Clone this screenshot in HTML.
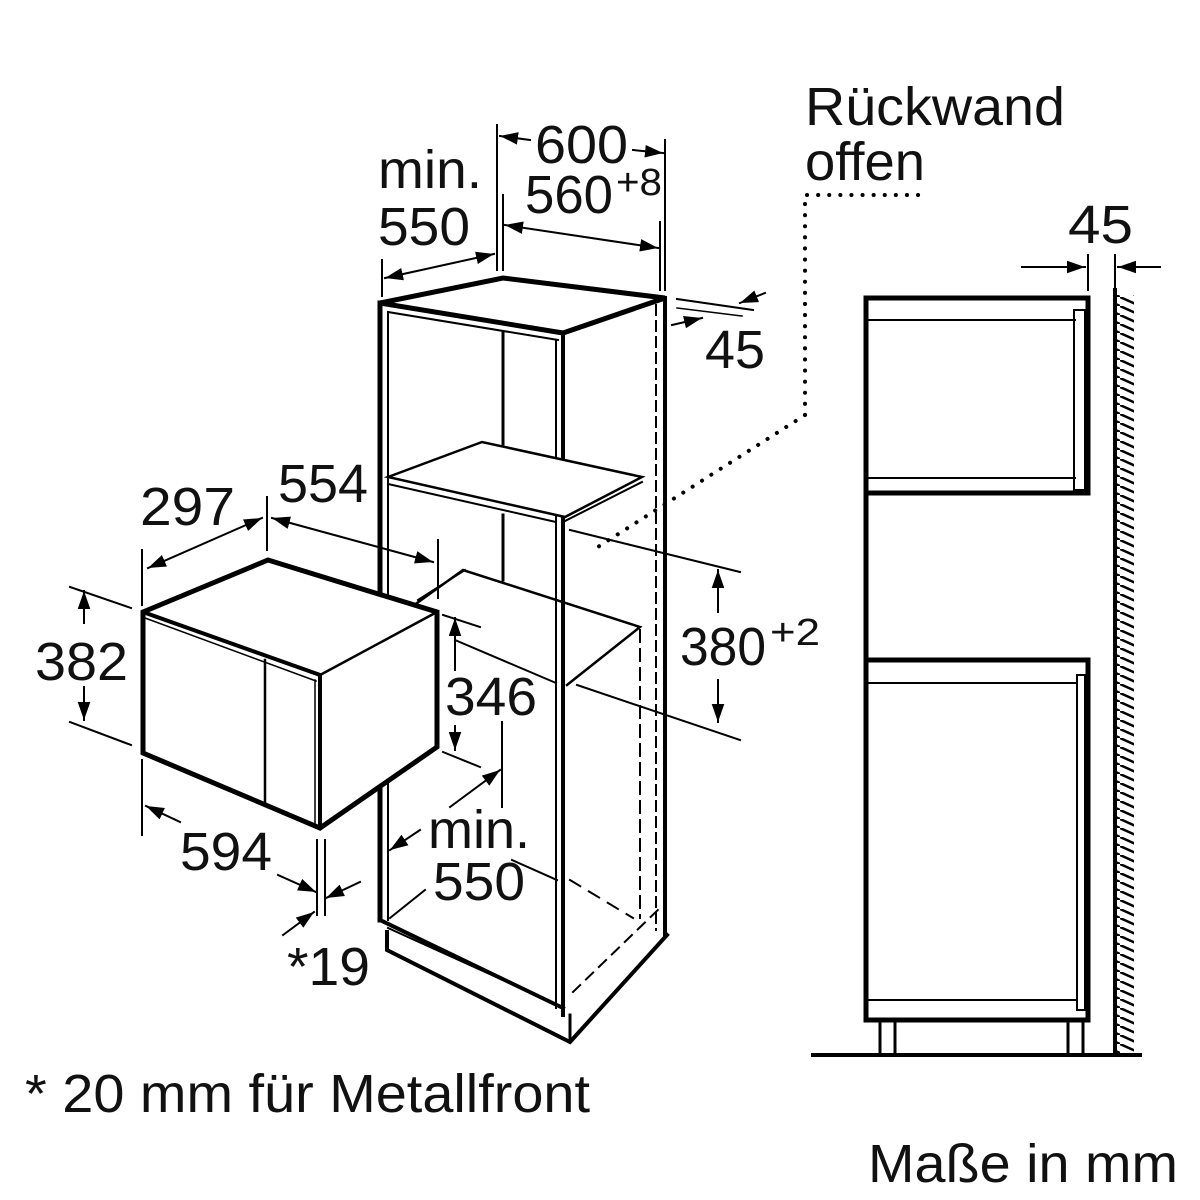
<!DOCTYPE html>
<html><head><meta charset="utf-8"><style>
html,body{margin:0;padding:0;background:#fff}
svg{display:block}
text{font-family:"Liberation Sans",sans-serif;fill:#111}
</style></head><body>
<svg width="1200" height="1200" viewBox="0 0 1200 1200" xmlns="http://www.w3.org/2000/svg">
<defs>
<marker id="a" viewBox="0 0 10 10" refX="10" refY="5" markerWidth="9" markerHeight="9" orient="auto-start-reverse"><path d="M0,1.5 L10,5 L0,8.5z" fill="#000"/></marker>
<pattern id="h" width="20" height="9" patternUnits="userSpaceOnUse"><line x1="0" y1="0" x2="20" y2="9" stroke="#000" stroke-width="2.5"/></pattern>
</defs>
<g stroke="#000" fill="none" stroke-linecap="square">
<path d="M380,303 L503,278 L665,298 L563,333 L380,303 Z" stroke-width="5" fill="#fff"/>
<line x1="380" y1="303" x2="380" y2="920" stroke-width="5"/>
<line x1="388" y1="312" x2="388" y2="920" stroke-width="2"/>
<line x1="388" y1="312" x2="558" y2="340" stroke-width="2"/>
<line x1="563" y1="333" x2="563" y2="1015" stroke-width="4"/>
<line x1="556" y1="340" x2="556" y2="1008" stroke-width="2"/>
<line x1="665" y1="298" x2="665" y2="935" stroke-width="4"/>
<line x1="656" y1="305" x2="656" y2="930" stroke-width="2" stroke-dasharray="10,6"/>
<line x1="503" y1="333" x2="503" y2="445" stroke-width="3"/>
<line x1="503" y1="515" x2="503" y2="580" stroke-width="3"/>
<path d="M388,477 L482,442 L642,477 L565,517 Z" stroke-width="2.5" fill="#fff"/>
<line x1="388" y1="484" x2="556" y2="522" stroke-width="2"/>
<line x1="563" y1="522" x2="642" y2="482" stroke-width="2"/>
<path d="M417,603 L463,570 L640,627 L567,685" stroke-width="2.5"/>
<line x1="455" y1="640" x2="556" y2="683" stroke-width="2"/>
<line x1="640" y1="630" x2="640" y2="918" stroke-width="2" stroke-dasharray="12,7"/>
<line x1="570" y1="880" x2="633" y2="918" stroke-width="2" stroke-dasharray="12,10"/>
<line x1="573" y1="992" x2="663" y2="905" stroke-width="2" stroke-dasharray="10,8"/>
<line x1="380" y1="920" x2="563" y2="1008" stroke-width="4"/>
<line x1="388" y1="928" x2="556" y2="1004" stroke-width="2"/>
<path d="M387,932 L387,950 L570,1042 L667,935" stroke-width="4"/>
<line x1="570" y1="1015" x2="570" y2="1042" stroke-width="3"/>
<path d="M143,612 L268,560 L437,612 L437,747 L320,828 L143,753 Z" stroke-width="5" fill="#fff"/>
<line x1="143" y1="612" x2="320" y2="675" stroke-width="4"/>
<line x1="145" y1="618" x2="316" y2="681" stroke-width="1.5"/>
<line x1="437" y1="612" x2="320" y2="675" stroke-width="2.5"/>
<line x1="320" y1="675" x2="320" y2="828" stroke-width="4"/>
<line x1="315" y1="680" x2="315" y2="826" stroke-width="1.5"/>
<line x1="265" y1="660" x2="265" y2="803" stroke-width="2.5"/>
<line x1="142" y1="550" x2="142" y2="605" stroke-width="2"/>
<line x1="267" y1="497" x2="267" y2="550" stroke-width="2"/>
<line x1="148" y1="568" x2="262" y2="518" stroke-width="2" marker-start="url(#a)" marker-end="url(#a)"/>
<line x1="272" y1="518" x2="433" y2="562" stroke-width="2" marker-start="url(#a)" marker-end="url(#a)"/>
<line x1="438" y1="540" x2="438" y2="598" stroke-width="2"/>
<line x1="418" y1="600" x2="465" y2="570" stroke-width="2"/>
<line x1="70" y1="587" x2="131" y2="608" stroke-width="2"/>
<line x1="70" y1="722" x2="131" y2="745" stroke-width="2"/>
<line x1="84" y1="623" x2="84" y2="591" stroke-width="2" marker-end="url(#a)"/>
<line x1="84" y1="687" x2="84" y2="720" stroke-width="2" marker-end="url(#a)"/>
<line x1="142" y1="760" x2="142" y2="835" stroke-width="2"/>
<line x1="180" y1="822" x2="146" y2="806" stroke-width="2" marker-end="url(#a)"/>
<line x1="278" y1="875" x2="316" y2="892" stroke-width="2" marker-end="url(#a)"/>
<line x1="360" y1="882" x2="326" y2="898" stroke-width="2" marker-end="url(#a)"/>
<line x1="283" y1="935" x2="314" y2="912" stroke-width="2" marker-end="url(#a)"/>
<line x1="317" y1="840" x2="317" y2="915" stroke-width="2"/>
<line x1="325" y1="840" x2="325" y2="915" stroke-width="2"/>
<line x1="443" y1="615" x2="480" y2="627" stroke-width="2"/>
<line x1="443" y1="752" x2="480" y2="767" stroke-width="2"/>
<line x1="455" y1="670" x2="455" y2="618" stroke-width="2" marker-end="url(#a)"/>
<line x1="455" y1="726" x2="455" y2="750" stroke-width="2" marker-end="url(#a)"/>
<line x1="570" y1="530" x2="740" y2="572" stroke-width="2"/>
<line x1="577" y1="685" x2="740" y2="740" stroke-width="2"/>
<line x1="718" y1="612" x2="718" y2="570" stroke-width="2" marker-end="url(#a)"/>
<line x1="718" y1="680" x2="718" y2="722" stroke-width="2" marker-end="url(#a)"/>
<line x1="502" y1="722" x2="502" y2="807" stroke-width="2"/>
<line x1="450" y1="807" x2="500" y2="770" stroke-width="2" marker-end="url(#a)"/>
<line x1="420" y1="830" x2="390" y2="850" stroke-width="2" marker-end="url(#a)"/>
<line x1="425" y1="890" x2="390" y2="918" stroke-width="2"/>
<line x1="512" y1="860" x2="557" y2="880" stroke-width="2"/>
<line x1="497" y1="125" x2="497" y2="270" stroke-width="2"/>
<line x1="503" y1="195" x2="503" y2="270" stroke-width="2"/>
<line x1="665" y1="140" x2="665" y2="290" stroke-width="2"/>
<line x1="660" y1="222" x2="660" y2="290" stroke-width="2"/>
<line x1="530" y1="140" x2="500" y2="136" stroke-width="2" marker-end="url(#a)"/>
<line x1="633" y1="150" x2="663" y2="153" stroke-width="2" marker-end="url(#a)"/>
<line x1="505" y1="225" x2="658" y2="248" stroke-width="2" marker-start="url(#a)" marker-end="url(#a)"/>
<line x1="382" y1="260" x2="382" y2="296" stroke-width="2"/>
<line x1="385" y1="278" x2="494" y2="254" stroke-width="2" marker-start="url(#a)" marker-end="url(#a)"/>
<line x1="677" y1="299" x2="753" y2="310" stroke-width="2"/>
<line x1="677" y1="308" x2="742" y2="316" stroke-width="1.5"/>
<line x1="765" y1="293" x2="740" y2="303" stroke-width="2" marker-end="url(#a)"/>
<line x1="672" y1="325" x2="702" y2="318" stroke-width="2" marker-end="url(#a)"/>
<path d="M805,415 L805,195 L925,195 M805,415 L590,552" stroke-width="4" stroke-dasharray="0.1,11" stroke-linecap="round"/>
<rect x="866" y="298" width="222" height="195" stroke-width="5"/>
<line x1="868" y1="320" x2="1075" y2="320" stroke-width="2"/>
<line x1="868" y1="478" x2="1075" y2="478" stroke-width="2"/>
<rect x="1074" y="310" width="11" height="180" stroke-width="2"/>
<line x1="866" y1="493" x2="866" y2="660" stroke-width="5"/>
<rect x="866" y="660" width="222" height="360" stroke-width="5"/>
<line x1="868" y1="683" x2="1075" y2="683" stroke-width="2"/>
<line x1="868" y1="1000" x2="1075" y2="1000" stroke-width="2"/>
<rect x="1077" y="675" width="8" height="335" stroke-width="2"/>
<path d="M880,1020 V1055 M895,1020 V1055 M1068,1020 V1055 M1083,1020 V1055" stroke-width="3"/>
<line x1="813" y1="1055" x2="1140" y2="1055" stroke-width="4"/>
<rect x="1117" y="295" width="17" height="760" fill="url(#h)" stroke="none"/>
<line x1="1115" y1="290" x2="1115" y2="1055" stroke-width="4"/>
<line x1="1088" y1="255" x2="1088" y2="290" stroke-width="2"/>
<line x1="1115" y1="255" x2="1115" y2="290" stroke-width="2"/>
<line x1="1022" y1="267" x2="1085" y2="267" stroke-width="2" marker-end="url(#a)"/>
<line x1="1160" y1="267" x2="1118" y2="267" stroke-width="2" marker-end="url(#a)"/>
</g>
<g font-size="54">
<text x="805" y="125" textLength="260" lengthAdjust="spacingAndGlyphs">Rückwand</text>
<text x="805" y="180" textLength="120" lengthAdjust="spacingAndGlyphs">offen</text>
<text x="378" y="188" textLength="104" lengthAdjust="spacingAndGlyphs">min.</text>
<text x="378" y="245" textLength="92" lengthAdjust="spacingAndGlyphs">550</text>
<text x="535" y="163" textLength="93" lengthAdjust="spacingAndGlyphs">600</text>
<text x="525" y="213" textLength="88" lengthAdjust="spacingAndGlyphs">560</text><text x="616" y="195" font-size="38" textLength="46" lengthAdjust="spacingAndGlyphs">+8</text>
<text x="705" y="368" textLength="60" lengthAdjust="spacingAndGlyphs">45</text>
<text x="1068" y="243" textLength="65" lengthAdjust="spacingAndGlyphs">45</text>
<text x="140" y="525" textLength="95" lengthAdjust="spacingAndGlyphs">297</text>
<text x="278" y="502" textLength="90" lengthAdjust="spacingAndGlyphs">554</text>
<text x="35" y="680" textLength="93" lengthAdjust="spacingAndGlyphs">382</text>
<text x="445" y="715" textLength="92" lengthAdjust="spacingAndGlyphs">346</text>
<text x="680" y="665" textLength="86" lengthAdjust="spacingAndGlyphs">380</text><text x="770" y="645" font-size="38" textLength="50" lengthAdjust="spacingAndGlyphs">+2</text>
<text x="428" y="848" textLength="102" lengthAdjust="spacingAndGlyphs">min.</text>
<text x="433" y="900" textLength="92" lengthAdjust="spacingAndGlyphs">550</text>
<text x="180" y="870" textLength="92" lengthAdjust="spacingAndGlyphs">594</text>
<text x="287" y="985" textLength="83" lengthAdjust="spacingAndGlyphs">*19</text>
<text x="25" y="1112" textLength="565" lengthAdjust="spacingAndGlyphs">* 20 mm für Metallfront</text>
<text x="868" y="1182" textLength="310" lengthAdjust="spacingAndGlyphs">Maße in mm</text>
</g>
</svg>
</body></html>
